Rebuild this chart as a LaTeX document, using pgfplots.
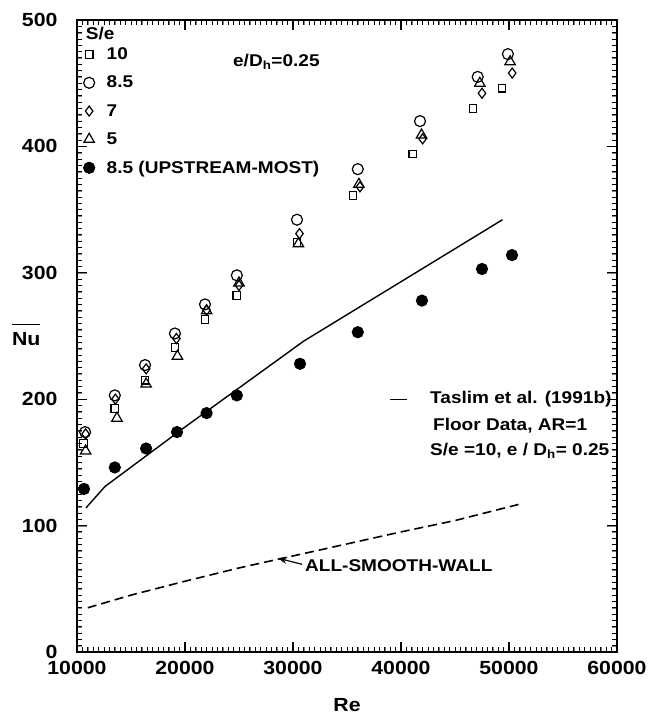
\documentclass[border=0pt]{standalone}
\usepackage{fontspec}
\setmainfont{Liberation Sans}[FakeStretch=1.12]
\usepackage{pgfplots}
\pgfplotsset{compat=1.18}
\usetikzlibrary{arrows.meta}
\newcommand{\ann}{\bfseries\fontsize{17}{18}\selectfont}
\newcommand{\bigf}{\bfseries\fontsize{19}{21}\selectfont}
\begin{document}
\begin{tikzpicture}
\begin{axis}[
  scale only axis, width=540pt, height=632pt,
  xmin=10000, xmax=60000, ymin=0, ymax=500,
  xtick={10000,20000,30000,40000,50000,60000},
  ytick={0,100,200,300,400,500},
  minor x tick num=19, minor y tick num=19,
  major tick length=10pt, minor tick length=5pt,
  axis line style={line width=1.8pt},
  scaled x ticks=false,
  /pgf/number format/assume math mode=true,
  /pgf/number format/1000 sep={},
  ticklabel style={font=\bigf},
  x tick label style={yshift=-6pt},
  y tick label style={xshift=-16pt},
  xlabel={Re},
  xlabel style={font=\bigf, at={(axis description cs:0.5,-0.084)}, anchor=center},
  ylabel={\begin{tabular}{@{}c@{}}\rule{1.45em}{1.3pt}\\[-1pt]Nu\end{tabular}},
  ylabel style={font=\bigf, rotate=-90, at={(axis description cs:-0.094,0.508)}, anchor=center},
  legend style={at={(rel axis cs:0.012,0.958)}, anchor=north west, draw=none, fill=none,
    font=\ann, row sep=13pt, inner sep=0pt, nodes={inner sep=1pt},
    /tikz/every odd column/.append style={column sep=11pt}},
  legend cell align=left,
  legend image code/.code={\draw plot coordinates {(6pt,0pt)};},
  mark options={solid, line width=1.2pt},
]
\addplot[black, line width=1.4pt, forget plot] coordinates {
(10830,114) (12600,131) (20000,178) (31000,246) (49400,342)};
\addplot[black, line width=1.6pt, dash pattern=on 9pt off 5pt, forget plot] coordinates {
(11000,35) (15000,45) (20000,56) (25000,66.5) (30000,76) (35000,85.5) (40000,95) (45000,104) (51000,117)};

\addplot[only marks, mark=square, mark size=3.8pt, black] coordinates {
(10600,165) (13500,192.5) (16300,215) (19070,241) (21850,263) (24800,282)
(30370,324) (35550,361) (41100,394) (46670,430) (49350,446)};
\addlegendentry{10}
\addplot[only marks, mark=o, mark size=5.5pt, black] coordinates {
(10750,174) (13500,203) (16300,227) (19070,252) (21850,275) (24800,298)
(30370,342) (36000,382) (41760,420) (47100,455) (49900,473)};
\addlegendentry{8.5}
\addplot[only marks, mark=diamond, mark size=5pt, black] coordinates {
(10800,172.5) (13550,200) (16400,224) (19200,248) (22000,270.5) (25000,290)
(30600,331) (36200,368) (42000,406) (47500,442) (50300,458)};
\addlegendentry{7}
\addplot[only marks, mark=triangle, mark size=6pt, black] coordinates {
(10800,159) (13700,185) (16400,212) (19300,234) (22000,270) (25000,292)
(30500,323) (36100,370) (41900,409) (47300,450) (50100,467)};
\addlegendentry{5}
\addplot[only marks, mark=*, mark size=5.5pt, black] coordinates {
(10650,129) (13500,146) (16400,161) (19260,174) (22000,189) (24800,203)
(30650,228) (36000,253) (41940,278) (47500,303) (50280,314)};
\addlegendentry{8.5 (UPSTREAM-MOST)}

\node[font=\ann, anchor=center] at (axis cs:12150,489) {S/e};
\node[font=\ann, anchor=west, inner sep=0pt] at (axis cs:24440,467) {e/D\textsubscript{h}=0.25};
\draw[line width=1.4pt] (axis cs:38980,199.6) -- (axis cs:40550,199.6);
\node[font=\ann, anchor=west, inner sep=0pt] at (axis cs:42685,200) {Taslim et al. (1991b)};
\node[font=\ann, anchor=west, inner sep=0pt] at (axis cs:42960,179) {Floor Data, AR=1};
\node[font=\ann, anchor=west, inner sep=0pt] at (axis cs:42685,159.4) {S/e =10, e / D\textsubscript{h}= 0.25};
\node[font=\ann, anchor=west, inner sep=0pt] at (axis cs:31110,68.6) {ALL-SMOOTH-WALL};
\draw[line width=1.2pt, -{Stealth[length=9pt,width=7pt]}] (axis cs:30830,69.4) -- (axis cs:28610,74.2);
\coordinate (ll) at (rel axis cs:0,0);
\coordinate (ur) at (rel axis cs:1,1);
\end{axis}
% inward tick marks along the frame
\foreach \i in {1,...,99} {
  \draw[line width=0.9pt] (ll) ++(\i*5.4pt,0pt) -- ++(0pt,5pt);
  \draw[line width=0.9pt] (ur) ++(-\i*5.4pt,0pt) -- ++(0pt,-5pt);
  \draw[line width=0.9pt] (ll) ++(0pt,\i*6.32pt) -- ++(5pt,0pt);
  \draw[line width=0.9pt] (ur) ++(0pt,-\i*6.32pt) -- ++(-5pt,0pt);
}
\foreach \i in {1,...,4} {
  \draw[line width=1.2pt] (ll) ++(\i*108pt,0pt) -- ++(0pt,10pt);
  \draw[line width=1.2pt] (ur) ++(-\i*108pt,0pt) -- ++(0pt,-10pt);
  \draw[line width=1.2pt] (ll) ++(0pt,\i*126.4pt) -- ++(10pt,0pt);
  \draw[line width=1.2pt] (ur) ++(0pt,-\i*126.4pt) -- ++(-10pt,0pt);
}
\pgfresetboundingbox
\path[use as bounding box] (ll) ++(-77pt,-63pt) rectangle ++(651pt,715pt);
\end{tikzpicture}
\end{document}
